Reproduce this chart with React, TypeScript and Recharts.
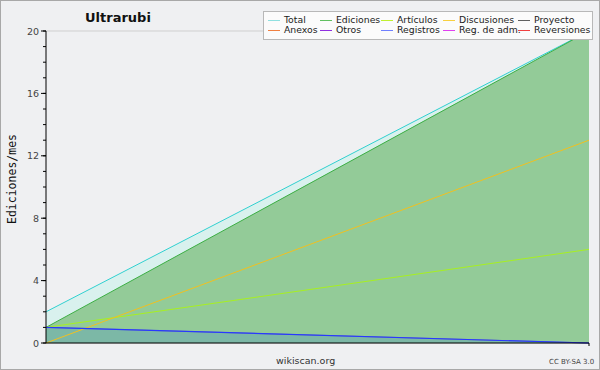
import React from "react";
import { ComposedChart, Area, Line, XAxis, YAxis, CartesianGrid } from "recharts";

const categories = ["inicio", "fin"];
const total = [2, 20];
const ediciones = [1, 20];
const articulos = [1, 6];
const discusiones = [0, 13];
const registros = [1, 0];
const proyecto = [1, 0];
const yTicks = Array.from({ length: 21 }, (_, i) => i);
const majorTicks = [0, 4, 8, 12, 16, 20];

const legendItems = [
  { name: "Total", color: "#90e0e0" },
  { name: "Ediciones", color: "#60c060" },
  { name: "Artículos", color: "#c0f030" },
  { name: "Discusiones", color: "#f8d040" },
  { name: "Proyecto", color: "#606060" },
  { name: "Anexos", color: "#f08040" },
  { name: "Otros", color: "#9030e0" },
  { name: "Registros", color: "#7080ff" },
  { name: "Reg. de adm.", color: "#e040f0" },
  { name: "Reversiones", color: "#f04040" },
];
const colX = [4, 56, 117, 179, 254];

const data = categories.map((c, i) => ({
  x: i,
  cat: c,
  total: total[i],
  ediciones: ediciones[i],
  articulos: articulos[i],
  discusiones: discusiones[i],
  registros: registros[i],
  proyecto: proyecto[i],
}));

const FONT = "'DejaVu Sans', sans-serif";

const YTick = (props: any) => {
  const { x, y, payload } = props;
  const v = payload.value;
  const major = majorTicks.includes(v);
  if (!major) return <g />;
  return (
    <g>
      <line x1={x + 2} x2={x + 7} y1={y} y2={y} stroke="#000" />
      <text x={x} y={y} dy={3.5} textAnchor="end" fontSize={9.5} fill="#444" fontFamily={FONT}>
        {v}
      </text>
    </g>
  );
};

const YLabel = (props: any) => {
  const vb = props.viewBox || { x: 0, y: 31, width: 46, height: 312 };
  const x = vb.x + 16;
  const y = vb.y + vb.height / 2 - 8;
  return (
    <text
      x={x}
      y={y}
      transform={`rotate(-90, ${x}, ${y})`}
      textAnchor="middle"
      fontSize={11.5}
      fill="#111"
      fontFamily="'DejaVu Sans Mono', monospace"
    >
      Ediciones/mes
    </text>
  );
};

const LegendBox = () => (
  <div
    style={{
      position: "absolute",
      left: 262,
      top: 10,
      width: 328,
      height: 27,
      background: "#fbfbfb",
      border: "1px solid #b8b8b8",
      fontFamily: FONT,
      fontSize: 9.3,
      color: "#222",
    }}
  >
    {legendItems.map((it, i) => {
      const row = Math.floor(i / 5);
      const col = i % 5;
      return (
        <div
          key={it.name}
          style={{ position: "absolute", left: colX[col], top: 3 + row * 10, height: 10, lineHeight: "10px", whiteSpace: "nowrap" }}
        >
          <span
            style={{ display: "inline-block", width: 12, height: 1, background: it.color, verticalAlign: "middle", marginRight: 4 }}
          />
          {it.name}
        </div>
      );
    })}
  </div>
);

export default function App() {
  return (
    <div
      style={{
        position: "absolute",
        left: 0,
        top: 0,
        width: 600,
        height: 370,
        boxSizing: "border-box",
        border: "1px solid #a8a8a8",
        background: "#eff0f2",
        fontFamily: FONT,
      }}
    >
      <div style={{ position: "absolute", left: -1, top: -1 }}>
        <ComposedChart width={600} height={370} data={data} margin={{ top: 31, right: 11, bottom: 0, left: 0 }}>
          <CartesianGrid vertical={false} stroke="#cfcfcf" yAxisId="grid" />
          <XAxis
            dataKey="x"
            type="number"
            domain={[0, 1]}
            ticks={[1]}
            height={27}
            tickSize={3}
            tickFormatter={() => ""}
            stroke="#000"
          />
          <YAxis yAxisId="grid" domain={[0, 20]} ticks={majorTicks} hide />
          <YAxis
            domain={[0, 20]}
            ticks={yTicks}
            interval={0}
            width={46}
            tickSize={3}
            tickMargin={4}
            tick={<YTick />}
            stroke="#000"
            label={<YLabel />}
          />
          <Area dataKey="total" stroke="#30d0d0" strokeWidth={1} fill="#d9f1ee" fillOpacity={1} isAnimationActive={false} dot={false} activeDot={false} />
          <Area dataKey="ediciones" stroke="#3cae44" strokeWidth={1} fill="#93cb98" fillOpacity={1} isAnimationActive={false} dot={false} activeDot={false} />
          <Area dataKey="registros" stroke="none" fill="#4a90c8" fillOpacity={0.3} isAnimationActive={false} dot={false} activeDot={false} />
          <Line dataKey="proyecto" stroke="#7080a8" strokeWidth={1} dot={false} activeDot={false} isAnimationActive={false} />
          <Line dataKey="articulos" stroke="#a8f020" strokeWidth={1} dot={false} activeDot={false} isAnimationActive={false} />
          <Line dataKey="discusiones" stroke="#f0c020" strokeWidth={1} dot={false} activeDot={false} isAnimationActive={false} />
          <Line dataKey="registros" stroke="#2838ff" strokeWidth={1.2} dot={false} activeDot={false} isAnimationActive={false} />
        </ComposedChart>
      </div>
      <LegendBox />
      <div style={{ position: "absolute", left: 84, top: 9, fontSize: 13, fontWeight: "bold", color: "#111" }}>Ultrarubi</div>
      <div style={{ position: "absolute", left: 275, top: 354, fontSize: 9.5, color: "#333" }}>wikiscan.org</div>
      <div style={{ position: "absolute", left: 548, top: 357, fontSize: 7, color: "#444" }}>CC BY-SA 3.0</div>
    </div>
  );
}
